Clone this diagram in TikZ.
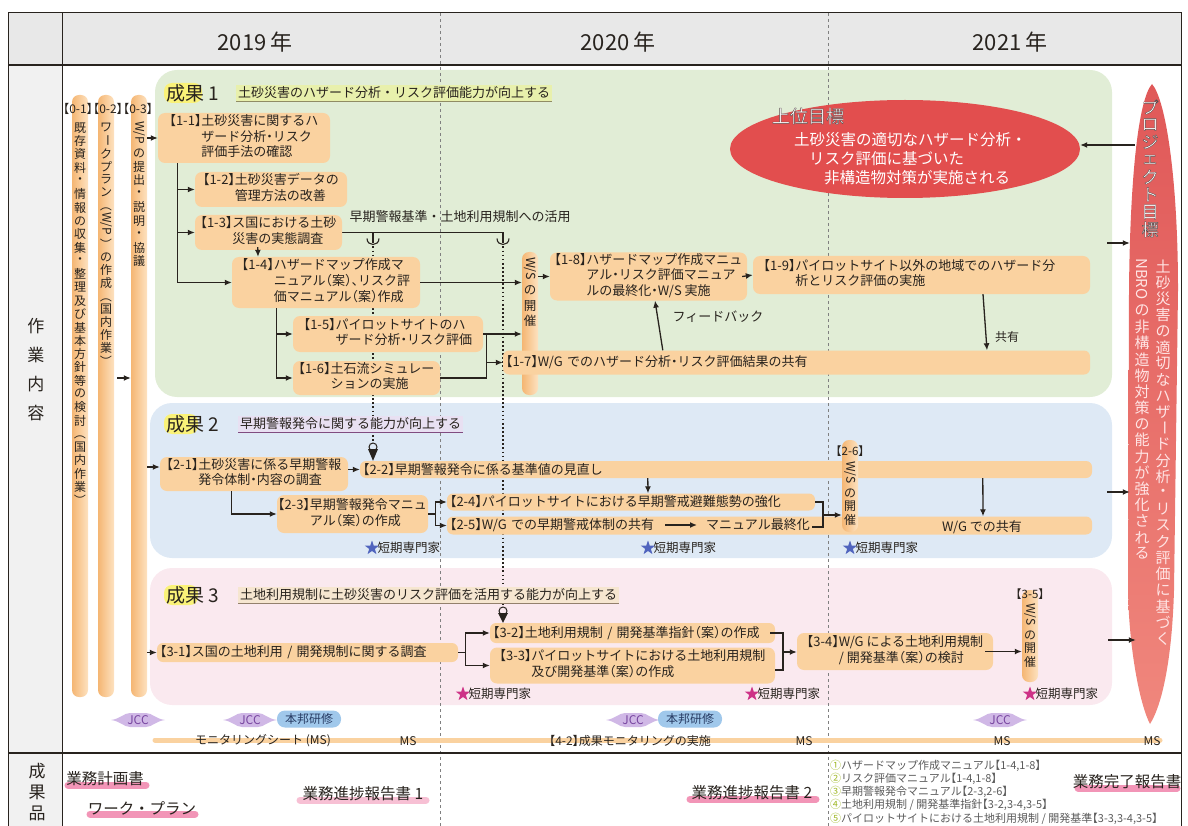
\documentclass[tikz,border=0pt]{standalone}
\usepackage{fontspec}
\usepackage{graphicx}
\setmainfont{Noto Sans CJK JP}
\newfontfamily\lbf[RawFeature=+halt]{Noto Sans CJK JP}
\usetikzlibrary{arrows.meta,shapes.geometric,calc}
\pgfdeclarelayer{bg}
\pgfdeclarelayer{mid}
\pgfsetlayers{bg,mid,main}

\definecolor{boxor}{RGB}{250,210,160}
\definecolor{barL}{RGB}{245,182,115}
\definecolor{barR}{RGB}{253,226,192}
\definecolor{rgreen}{RGB}{225,237,214}
\definecolor{rblue}{RGB}{222,233,245}
\definecolor{rpink}{RGB}{250,233,239}
\definecolor{hdr}{RGB}{232,232,232}
\definecolor{txt}{RGB}{40,35,30}
\definecolor{goalred}{RGB}{226,78,78}
\definecolor{pgtop}{RGB}{224,88,88}
\definecolor{pgbot}{RGB}{240,135,125}
\definecolor{pgtxt}{RGB}{255,228,228}
\definecolor{starblue}{RGB}{80,100,190}
\definecolor{starpink}{RGB}{205,50,135}
\definecolor{jccfill}{RGB}{208,184,230}
\definecolor{jcctext}{RGB}{120,70,160}
\definecolor{hbfill}{RGB}{160,200,235}
\definecolor{hbtext}{RGB}{40,60,100}
\definecolor{hl1}{RGB}{232,240,172}
\definecolor{hl2}{RGB}{232,224,242}
\definecolor{hl3}{RGB}{246,230,208}
\definecolor{yel}{RGB}{250,242,120}
\definecolor{pinkhl}{RGB}{240,130,170}
\definecolor{numc}{RGB}{160,185,40}
\definecolor{grtxt}{RGB}{90,90,90}

\ExplSyntaxOn
\box_new:N \l__vt_box
\dim_new:N \l__vt_dim
\NewDocumentCommand \vt { O{14pt} m }
 {
  \vbox:n
   {
    \offinterlineskip
    \tl_map_inline:nn {#2}
     {
      \hbox_set:Nn \l__vt_box {##1}
      \dim_set:Nn \l__vt_dim { \box_ht:N \l__vt_box + \box_dp:N \l__vt_box }
      \dim_compare:nNnTF { \l__vt_dim } > { #1 }
       {
        \hbox_to_wd:nn { 1.4em } { \hss \box_use_drop:N \l__vt_box \hss }
        \skip_vertical:n { 3pt }
       }
       {
        \hbox_to_wd:nn { 1.4em }
         { \hss \vbox_to_ht:nn {#1} { \vss \box_use_drop:N \l__vt_box \vss } \hss }
       }
     }
   }
 }
\ExplSyntaxOff

\newcommand\rb[1]{\rotatebox[origin=c]{-90}{#1}}
\newcommand\lb[1]{{\lbf【#1】}}
\newcommand\tk[2]{\begin{tabular}{@{}l@{}l@{}}\lb{#1}&\begin{tabular}[t]{@{}l@{}}#2\end{tabular}\end{tabular}}
% white text with a thin dark outline (PDF text render mode 2: fill + stroke)
\newcommand\outl[1]{\special{pdf:literal direct 2 Tr 0.4 w 0.35 0.3 0.3 RG}#1\special{pdf:literal direct 0 Tr}}

\tikzset{
  sz/.style 2 args={minimum width=#1pt, minimum height=#2pt},
  arr/.style={-{Latex[length=7pt,width=6pt]}, line width=1.3pt, draw=txt},
  ln/.style={line width=1.3pt, draw=txt},
  dotl/.style={line width=1.7pt, draw=txt, dash pattern=on 1.7pt off 2.4pt},
  tbox/.style={rounded corners=7pt, fill=boxor, inner sep=0pt, font=\lbf\fontsize{13}{15.5}\selectfont, text=txt},
  bar/.style={rounded corners=6pt, fill=boxor, inner ysep=0pt, inner xsep=3pt, font=\lbf\fontsize{13}{15.5}\selectfont, text=txt, align=left},
  vbar/.style={rounded corners=7pt, left color=barL, right color=barR, inner sep=0pt},
  region/.style={rounded corners=22pt, inner sep=0pt},
  vtx/.style={font=\fontsize{12}{12}\selectfont, text=txt, inner sep=0pt, anchor=north},
  lbl/.style={anchor=west, font=\fontsize{12.5}{12.5}\selectfont, text=txt, inner sep=1pt},
  starb/.style={star, star points=5, star point ratio=2.5, fill=starblue, minimum size=15pt, inner sep=0pt},
  starp/.style={starb, fill=starpink},
  plain/.style={font=\fontsize{13}{13}\selectfont, text=txt, inner sep=1pt},
  ms/.style={font=\lbf\fontsize{12}{12}\selectfont, text=txt, inner sep=1pt},
  hb/.style={rounded corners=8pt, fill=hbfill, text=hbtext, font=\fontsize{12}{12}\selectfont, sz={64}{17}, inner sep=0pt},
  jcct/.style={font=\fontsize{12}{12}\selectfont, text=jcctext, inner sep=0pt},
  head/.style={font=\fontsize{19}{19}\selectfont, text=txt, anchor=west, inner sep=0pt},
  dsc/.style={font=\fontsize{13}{13}\selectfont, text=txt, anchor=west, inner sep=2pt},
  deliv/.style={font=\fontsize{15.5}{15.5}\selectfont, text=txt, inner sep=0pt},
  yr/.style={font=\fontsize{22}{22}\selectfont, text=txt},
  hlt/.style={pinkhl, line width=7pt, line cap=round, opacity=0.85}
}

\newcommand\jcc[2]{%
  \begin{scope}[shift={(#2)}]
    \fill[jccfill] (-27,0) .. controls (-18,-1) and (-14,-7) .. (-8,-7) -- (8,-7) .. controls (14,-7) and (18,-1) .. (27,0) .. controls (18,1) and (14,7) .. (8,7) -- (-8,7) .. controls (-14,7) and (-18,1) .. (-27,0) -- cycle;
    \node[jcct] (#1) at (0,0) {JCC};
  \end{scope}}

\begin{document}
\begin{tikzpicture}[x=1pt,y=-1pt]
\useasboundingbox (0,0) rectangle (1188,826);

% ---------- background layer
\begin{pgfonlayer}{bg}
  \fill[hdr] (8,13) rectangle (1181,65);
  \fill[hdr!60] (8,65) rectangle (62,826);
  \node[region, fill=rgreen, sz={957}{327}] (r1) at (633.5,233.5) {};
  \node[region, fill=rblue, sz={962}{155}] (r2) at (631,480.5) {};
  \node[region, fill=rpink, sz={962}{137}] (r3) at (631,636.5) {};
  \draw[gray, dashed, line width=0.5pt] (440,13) -- (440,826);
  \draw[gray, dashed, line width=0.5pt] (828,13) -- (828,826);
\end{pgfonlayer}

% ---------- header
\node[yr] (y19) at (255,42) {2019\,年};
\node[yr] (y20) at (618,42) {2020\,年};
\node[yr] (y21) at (1010,42) {2021\,年};
\node[font=\fontsize{17}{17}\selectfont, text=txt, inner sep=0pt] (wk) at (36,370) {\vt[29pt]{作業内容}};
\node[font=\fontsize{17}{17}\selectfont, text=txt, inner sep=0pt] (dl) at (37,792) {\vt[21pt]{成果品}};

% ---------- left bars
\node[vbar, sz={16}{602}] (b01) at (80,396) {};
\node[vbar, sz={16}{602}] (b02) at (106,396) {};
\node[vbar, sz={16}{602}] (b03) at (139,396) {};
\node[ms, font=\lbf\fontsize{12}{12}\selectfont] (l01) at (78,109) {【0-1】};
\node[ms, font=\lbf\fontsize{12}{12}\selectfont] (l02) at (108,109) {【0-2】};
\node[ms, font=\lbf\fontsize{12}{12}\selectfont] (l03) at (138,109) {【0-3】};
\node[vtx] (t01) at (80,121) {\vt[13.3pt]{既存資料・情報の収集・整理及び基本方針等の検討{\rb{（}}国内作業{\rb{）}}}};
\node[vtx] (t02) at (106,121) {\vt[13pt]{ワ{\rb{ー}}クプラン{\rb{（}}{\rb{W/P}}{\rb{）}}の作成{\rb{（}}国内作業{\rb{）}}}};
\node[vtx] (t03) at (139,121) {\vt[13.5pt]{{\rb{W/P}}の提出・説明・協議}};

% ---------- headings
\fill[yel, rounded corners=8pt] (164,83) rectangle (202,103);
\node[head] (h1) at (166,93) {成果 1};
\node[dsc, fill=hl1] (d1) at (236,93) {土砂災害のハザード分析・リスク評価能力が向上する};
\draw[gray!70!olive, line width=0.6pt] (d1.south west) -- (d1.south east);
\fill[yel, rounded corners=8pt] (164,414) rectangle (198,434);
\node[head] (h2) at (166,424) {成果 2};
\node[dsc, fill=hl2] (d2) at (238,424) {早期警報発令に関する能力が向上する};
\draw[gray!60!violet, line width=0.6pt] (d2.south west) -- (d2.south east);
\fill[yel, rounded corners=8pt] (164,585) rectangle (198,605);
\node[head] (h3) at (166,595) {成果 3};
\node[dsc, fill=hl3] (d3) at (238,595) {土地利用規制に土砂災害のリスク評価を活用する能力が向上する};
\draw[gray!70!brown, line width=0.6pt] (d3.south west) -- (d3.south east);

% ---------- output 1 boxes
\node[tbox, sz={172}{50}] (n11) at (244,138) {\tk{1-1}{土砂災害に関するハ\\ザード分析・リスク\\評価手法の確認}};
\node[tbox, sz={152}{35}] (n12) at (271,189.5) {\tk{1-2}{土砂災害データの\\管理方法の改善}};
\node[tbox, sz={147}{35}] (n13) at (268.5,232.5) {\tk{1-3}{ス国における土砂\\災害の実態調査}};
\node[tbox, sz={188}{51}] (n14) at (326,282.5) {\tk{1-4}{ハザードマップ作成マ\\ニュアル（案）、リスク評\\価マニュアル（案）作成}};
\node[tbox, sz={190}{36}] (n15) at (388,334) {\tk{1-5}{パイロットサイトのハ\\ザード分析・リスク評価}};
\node[tbox, sz={147}{34}] (n16) at (366.5,378) {\tk{1-6}{土石流シミュレー\\ションの実施}};
\node[vbar, sz={16}{143}] (ws1) at (530,323.5) {};
\node[vtx, font=\fontsize{12.5}{12.5}\selectfont] (ws1t) at (530,257) {\vt[15pt]{{\rb{W/S}}の開催}};
\node[bar, minimum height=24pt, text width=581pt] (n17) at (796.5,362.5) {\lb{1-7}W/G でのハザード分析・リスク評価結果の共有};
\node[tbox, sz={197}{48}] (n18) at (648.5,276.5) {\tk{1-8}{ハザードマップ作成マニュ\\アル・リスク評価マニュア\\ルの最終化・W/S 実施}};
\node[tbox, sz={337}{38}] (n19) at (921.5,275) {\hspace*{-24pt}\tk{1-9}{パイロットサイト以外の地域でのハザード分\\析とリスク評価の実施}};
\node[plain] (t3) at (460,217) {早期警報基準・土地利用規制への活用};
\node[plain] (tfb) at (718,317) {フィードバック};
\node[plain, font=\fontsize{12}{12}\selectfont] (tsh) at (1007,337) {共有};

% ---------- goals
\node[ellipse, fill=goalred, minimum width=350pt, minimum height=98pt, inner sep=0pt] (goal) at (905,149) {};
\node[font=\fontsize{18}{18}\selectfont, text=white, inner sep=0pt] (goalh) at (808,116) {\outl{上位目標}};
\node[anchor=west, text=white, font=\fontsize{15.5}{19}\selectfont, inner sep=0pt] (goalt) at (794,161) {\begin{tabular}{@{}l@{}}土砂災害の適切なハザード分析・\\\hspace{15pt}リスク評価に基づいた\\\hspace{30pt}非構造物対策が実施される\end{tabular}};
\shade[top color=pgtop, bottom color=pgbot] (1152,84) .. controls (1166,100) and (1178,180) .. (1178,290) -- (1174,590) .. controls (1172,660) and (1162,705) .. (1150,724) .. controls (1140,705) and (1129,650) .. (1128,590) -- (1129,290) .. controls (1130,180) and (1138,100) .. (1152,84) -- cycle;
\node[inner sep=0pt, sz={46}{640}] (pg) at (1153,404) {};
\node[anchor=north, font=\fontsize{17}{17}\selectfont, text=white, inner sep=0pt] (pgh) at (1150,98) {\outl{\vt[17.5pt]{プロジェクト目標}}};
\node[vtx, font=\fontsize{15}{15}\selectfont, text=pgtxt] (pgr) at (1163,258) {\vt[16.2pt]{土砂災害の適切なハザ{\rb{ー}}ド分析・リスク評価に基づく}};
\node[vtx, font=\fontsize{15}{15}\selectfont, text=pgtxt] (pgl) at (1142,258) {\vt[16.2pt]{{\rb{NBRO}}の非構造物対策の能力が強化される}};

% ---------- output 2 boxes
\node[tbox, sz={188}{34}] (n21) at (254,474) {\tk{2-1}{土砂災害に係る早期警報\\発令体制・内容の調査}};
\node[bar, minimum height=17pt, text width=726pt] (n22) at (726,469.5) {\lb{2-2}早期警報発令に係る基準値の見直し};
\node[tbox, sz={151}{38}] (n23) at (352.5,514) {\tk{2-3}{早期警報発令マニュ\\アル（案）の作成}};
\node[bar, minimum height=17pt, text width=362pt] (n24) at (631,502) {\lb{2-4}パイロットサイトにおける早期警戒避難態勢の強化};
\node[bar, minimum height=18pt, text width=639pt] (n25) at (769.5,525.5) {\lb{2-5}W/G での早期警戒体制の共有};
\node[plain] (m25) at (758,525) {マニュアル最終化};
\node[plain] (wg) at (982,527) {W/G での共有};
\node[vbar, sz={16}{92}] (ws2) at (850,486) {};
\node[ms, font=\lbf\fontsize{11.5}{11.5}\selectfont] (l26) at (850,451) {【2-6】};
\node[vtx] (ws2t) at (850,461) {\vt[13.5pt]{{\rb{W/S}}の開催}};
\node[starb] (s1) at (372,548) {};
\node[lbl] (s1t) at (s1.east) {短期専門家};
\node[starb] (s2) at (648,548) {};
\node[lbl] (s2t) at (s2.east) {短期専門家};
\node[starb] (s3) at (850,548) {};
\node[lbl] (s3t) at (s3.east) {短期専門家};

% ---------- output 3 boxes
\node[bar, minimum height=19pt, text width=295pt] (n31) at (307.5,652.5) {\lb{3-1}ス国の土地利用 / 開発規制に関する調査};
\node[bar, minimum height=20pt, text width=279pt] (n32) at (632.5,633) {\lb{3-2}土地利用規制 / 開発基準指針（案）の作成};
\node[tbox, sz={285}{36}] (n33) at (632.5,665.5) {\tk{3-3}{パイロットサイトにおける土地利用規制\\及び開発基準（案）の作成}};
\node[tbox, sz={196}{37}] (n34) at (895,651.5) {\tk{3-4}{W/G による土地利用規制\\/ 開発基準（案）の検討}};
\node[vbar, sz={16}{92}] (ws3) at (1030,636) {};
\node[ms, font=\lbf\fontsize{11.5}{11.5}\selectfont] (l35) at (1030,594) {【3-5】};
\node[vtx] (ws3t) at (1030,603) {\vt[13.5pt]{{\rb{W/S}}の開催}};
\node[starp] (s4) at (463,694) {};
\node[lbl] (s4t) at (s4.east) {短期専門家};
\node[starp] (s5) at (752,694) {};
\node[lbl] (s5t) at (s5.east) {短期専門家};
\node[starp] (s6) at (1030,694) {};
\node[lbl] (s6t) at (s6.east) {短期専門家};

% ---------- connectors (behind boxes)
\coordinate (c1) at (373,232.5);
\coordinate (c2) at (503,232.5);
\coordinate (d1) at (373,443);
\coordinate (d2) at (503,607);
\begin{pgfonlayer}{mid}
  \draw[ln] (n13.east) -- (c2) -- ++(0,11);
  \draw[ln] (c1) -- ++(0,11);
  \draw[line width=1.1pt, draw=txt] ([xshift=-6pt,yshift=-6pt]c1) .. controls ([xshift=-6pt,yshift=-14pt]c1) and ([xshift=6pt,yshift=-14pt]c1) .. ([xshift=6pt,yshift=-6pt]c1);
  \draw[line width=1.1pt, draw=txt] ([xshift=-6pt,yshift=-6pt]c2) .. controls ([xshift=-6pt,yshift=-14pt]c2) and ([xshift=6pt,yshift=-14pt]c2) .. ([xshift=6pt,yshift=-6pt]c2);
  \draw[dotl] ([yshift=-14pt]c1) -- (d1);
  \draw[dotl] ([yshift=-14pt]c2) -- (d2);
\end{pgfonlayer}
\draw[line width=1pt, draw=txt] ([yshift=-4pt]d1) circle[radius=4pt];
\fill[txt] ([xshift=-5pt,yshift=-6pt]d1) -- ([xshift=5pt,yshift=-6pt]d1) -- (d1 |- n22.north) -- cycle;
\draw[line width=1pt, draw=txt] ([yshift=-4pt]d2) circle[radius=4pt];
\fill[txt] ([xshift=-5pt,yshift=-6pt]d2) -- ([xshift=5pt,yshift=-6pt]d2) -- (d2 |- n32.north) -- cycle;

% ---------- connectors output 1
\coordinate (a02) at (117,378);
\draw[arr] (a02) -- (a02 -| b03.west);
\draw[arr] (b03.east |- n11.west) -- (n11.west);
\draw[arr] ([xshift=20pt]n11.south west) |- (n12.west);
\draw[arr] ([xshift=20pt]n11.south west) |- (n13.west);
\draw[arr] ([xshift=20pt]n11.south west) |- (n14.west);
\draw[arr] ([xshift=63pt,yshift=3pt]n13.south west) -- ([xshift=-68pt]n14.north);
\draw[arr] (n14.east) -- (n14.east -| ws1.west);
\draw[arr] ([xshift=45pt]n14.south west) |- (n15.west);
\draw[arr] ([xshift=45pt]n14.south west) |- (n16.west);
\draw[arr] (n15.east) -- (n15.east -| ws1.west);
\coordinate (k1) at ([xshift=3pt]n15.east);
\draw[ln] (n16.east) -| (k1);
\draw[arr] (k1 |- n17.west) -- (n17.west);
\draw[arr] (ws1.east |- n18.west) -- (n18.west);
\draw[arr] ([xshift=-5pt]n18.east) -- (n19.west);
\draw[arr] ([xshift=160pt]n17.north west) -- ([xshift=6.5pt]n18.south);
\draw[arr] ([xshift=61.5pt]n19.south) -- ([xshift=190.5pt]n17.north);
\coordinate (pgg) at (1135,145);
\draw[arr] (pgg) -- (pgg -| goal.east);
\coordinate (p1) at (1107,243);
\coordinate (p2) at (1107,492);
\coordinate (p3) at (1108,640);
\draw[arr] (p1) -- (p1 -| pg.west);
\draw[arr] (p2) -- (p2 -| pg.west);
\draw[arr] (p3) -- ([xshift=6pt]p3 -| pg.west);

% ---------- connectors output 2
\coordinate (a21) at (147,467);
\draw[arr] (a21) -- (a21 -| n21.west);
\draw[arr] (n21.east |- n22.west) -- (n22.west);
\draw[arr] ([xshift=72pt]n21.south west) |- (n23.west);
\coordinate (k2) at ([xshift=7pt]n23.east);
\draw[ln] (n23.east) -- (k2);
\draw[arr] (k2) |- (n24.west);
\draw[arr] (k2) |- (n25.west);
\draw[arr] ([xshift=288pt]n22.south west) -- ([xshift=17pt]n24.north);
\draw[arr] ([xshift=-40pt]m25.west) -- ([xshift=-8pt]m25.west);
\coordinate (k3) at (823,515);
\coordinate (k3b) at (812,527);
\draw[ln] (n24.east) -- (n24.east -| k3) -- (k3 |- k3b) -- (k3b);
\draw[arr] (k3) -- (k3 -| ws2.west);
\draw[arr] ([xshift=623pt]n22.south west) -- ([xshift=213.5pt]n25.north);

% ---------- connectors output 3
\coordinate (a31) at (147,652.5);
\draw[arr] (a31) -- (a31 -| n31.west);
\coordinate (k4) at ([xshift=7pt]n31.east);
\draw[ln] (n31.east) -- (k4);
\draw[arr] (k4) |- (n32.west);
\draw[arr] (k4) |- (n33.west);
\coordinate (k5) at (783,652);
\coordinate (k5b) at (775,670);
\draw[ln] ([xshift=-5pt]n32.east) -- (n32.east -| k5) -- (k5 |- k5b) -- (k5b);
\draw[arr] (k5) -- (k5 -| n34.west);
\draw[arr] ([xshift=-8pt]n34.east) -- (ws3.west |- n34.east);

% ---------- bottom timeline
\jcc{j1}{138,720}
\jcc{j2}{250,720}
\jcc{j3}{633,720}
\jcc{j4}{1000,720}
\node[hb] (hb1) at (309,719) {本邦研修};
\node[hb] (hb2) at (690,719) {本邦研修};
\coordinate (msL) at (155,740);
\coordinate (msR) at (1160,740);
\draw[boxor, line width=5pt, line cap=round] (msL) -- (msR);
\node[ms] (ms1) at (263,741) {モニタリングシート (MS)};
\node[ms] (ms2) at (408,741) {MS};
\node[ms] (ms3) at (630,741) {【4-2】成果モニタリングの実施};
\node[ms] (ms4) at (804,741) {MS};
\node[ms] (ms5) at (1002,741) {MS};
\node[ms] (ms6) at (1152,741) {MS};

% ---------- deliverables
\draw[hlt] (68,785) -- (146,785);
\node[deliv] (dv1) at (105,779) {業務計画書};
\draw[hlt] (90,814) -- (195,814);
\node[deliv] (dv2) at (142,808) {ワーク・プラン};
\draw[hlt, opacity=0.5] (300,800) -- (426,800);
\node[deliv] (dv3) at (363,794) {業務進捗報告書 1};
\draw[hlt] (690,799) -- (816,799);
\node[deliv] (dv4) at (752,793) {業務進捗報告書 2};
\draw[hlt] (1078,788) -- (1177,788);
\node[deliv] (dv5) at (1127,782) {業務完了報告書};
\node[anchor=north west, font=\lbf\fontsize{11}{12.8}\selectfont, text=grtxt, inner sep=0pt] (lst) at (830,760) {\begin{tabular}{@{}l@{}}
{\color{numc}①}ハザードマップ作成マニュアル【1-4,1-8】\\
{\color{numc}②}リスク評価マニュアル【1-4,1-8】\\
{\color{numc}③}早期警報発令マニュアル【2-3,2-6】\\
{\color{numc}④}土地利用規制 / 開発基準指針【3-2,3-4,3-5】\\
{\color{numc}⑤}パイロットサイトにおける土地利用規制 / 開発基準【3-3,3-4,3-5】
\end{tabular}};

% ---------- frame
\draw[txt, line width=1pt] (8,826) -- (8,13) -- (1181,13) -- (1181,826);
\draw[txt, line width=1pt] (62,13) -- (62,826);
\draw[txt, line width=2pt] (8,65) -- (1181,65);
\draw[txt, line width=1.5pt] (8,753) -- (1181,753);
\end{tikzpicture}
\end{document}
